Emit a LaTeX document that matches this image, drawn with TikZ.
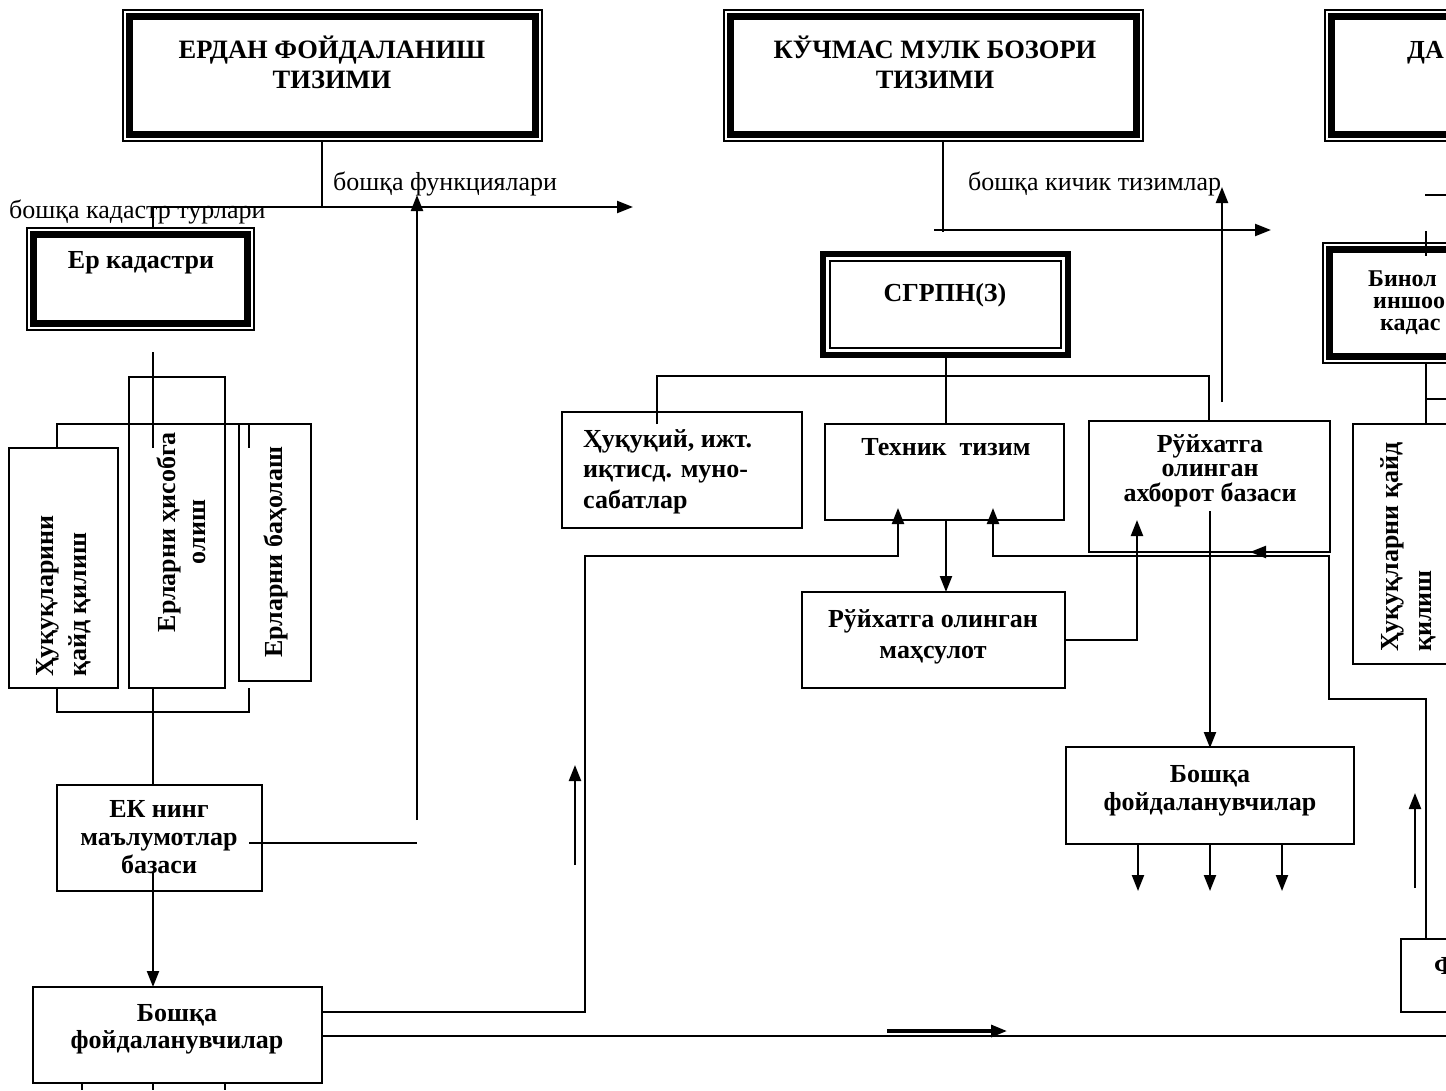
\documentclass[tikz,border=0pt]{standalone}
\usepackage{fontspec}
\setmainfont{Liberation Serif}
\usetikzlibrary{arrows.meta}
\newcommand\tlines[2]{\begin{tabular}[t]{@{}#1@{}}#2\end{tabular}}
\newcommand\boxat[6][bx]{\node[#1, minimum width={#5-#3}, minimum height={#6-#4}] (#2) at ({(#3+#5)/2},{(#4+#6)/2}) {};}
\newcommand\dblA[1]{\draw[line width=6.5pt] ([shift={(7.5,7.5)}]#1.north west) rectangle ([shift={(-7.5,-7.5)}]#1.south east);}
\newcommand\dblB[1]{\draw[line width=6.5pt] ([shift={(3.25,3.25)}]#1.north west) rectangle ([shift={(-3.25,-3.25)}]#1.south east);
  \draw[line width=1.5pt] ([shift={(10,10)}]#1.north west) rectangle ([shift={(-10,-10)}]#1.south east);}
\begin{document}
\begin{tikzpicture}[x=1pt,y=-1pt,
  bx/.style={draw, line width=1.7pt, inner sep=0pt, rectangle},
  bxn/.style={inner sep=0pt, rectangle},
  tb/.style={inner sep=0pt, font=\fontsize{26}{28}\selectfont\bfseries},
  tr/.style={inner sep=0pt, font=\fontsize{26}{28}\selectfont},
  ln/.style={line width=1.7pt},
  arr/.style={line width=2.2pt,-{Triangle[length=16pt,width=12pt]}}]
\useasboundingbox (0,0) rectangle (1446,1090);
\clip (0,0) rectangle (1446,1090);

% ---------- boxes ----------
\boxat{A}{123}{10}{542}{141}\dblA{A}
\boxat{B}{724}{10}{1143}{141}\dblA{B}
\boxat{C}{1325}{10}{1745}{141}\dblA{C}
\boxat{erk}{27}{228}{254}{330}\dblA{erk}
\boxat[bxn]{sgrpn}{820}{251}{1071}{358}\dblB{sgrpn}
\boxat{binol}{1323}{243}{1563}{363}\dblA{binol}
\boxat{huq1}{9}{448}{118}{688}
\boxat{his}{129}{377}{225}{688}
\boxat{bah}{239}{424}{311}{681}
\boxat{ek}{57}{785}{262}{891}
\boxat{bosh1}{33}{987}{322}{1083}
\boxat{huqiy}{562}{412}{802}{528}
\boxat{tech}{825}{424}{1064}{520}
\boxat{ruyx}{1089}{421}{1330}{552}
\boxat{mahs}{802}{592}{1065}{688}
\boxat{bosh2}{1066}{747}{1354}{844}
\boxat{huq2}{1353}{424}{1560}{664}
\boxat{fbox}{1401}{939}{1600}{1012}

% ---------- texts ----------
\node[tb, font=\fontsize{26.5}{30}\selectfont\bfseries, anchor=base] (tA) at (332,58) {\tlines{c}{ЕРДАН ФОЙДАЛАНИШ\\ТИЗИМИ}};
\node[tb, font=\fontsize{26.5}{30}\selectfont\bfseries, anchor=base] (tB) at (935,58) {\tlines{c}{КЎЧМАС МУЛК БОЗОРИ\\ТИЗИМИ}};
\node[tb, anchor=base west] (tC) at (1407,58) {ДА};
\node[tb, anchor=base] (terk) at (141,268) {Ер кадастри};
\node[tb, anchor=base] (tsg) at (945,301) {СГРПН(З)};
\node[tb, font=\fontsize{24}{22}\selectfont\bfseries, anchor=base west] (tbi1) at (1368,286) {Бинол};
\node[tb, font=\fontsize{24}{22}\selectfont\bfseries, anchor=base west] (tbi2) at (1373,308) {иншоо};
\node[tb, font=\fontsize{24}{22}\selectfont\bfseries, anchor=base west] (tbi3) at (1380,330) {кадас};
\node[tb, font=\fontsize{26}{33}\selectfont\bfseries, rotate=90, anchor=base west] (thuq1) at (53,677) {\tlines{l}{Ҳуқуқларини\\қайд қилиш}};
\node[tb, font=\fontsize{26}{30.5}\selectfont\bfseries, rotate=90, anchor=base] (this) at (175,532) {\tlines{c}{Ерларни ҳисобга\\олиш}};
\node[tb, rotate=90, anchor=base] (tbah) at (282,552) {Ерларни баҳолаш};
\node[tb, font=\fontsize{26}{33}\selectfont\bfseries, rotate=90, anchor=base west] (thuq2) at (1398,652) {\tlines{l}{Ҳуқуқларни қайд\\қилиш}};
\node[tb, font=\fontsize{26}{28}\selectfont\bfseries, anchor=base] (tek) at (159,817) {\tlines{c}{ЕК нинг\\маълумотлар\\базаси}};
\node[tb, font=\fontsize{26}{27}\selectfont\bfseries, anchor=base] (tbo1) at (177,1021) {\tlines{c}{Бошқа\\фойдаланувчилар}};
\node[tb, font=\fontsize{26}{30.5}\selectfont\bfseries, anchor=base west] (thy) at (583,447) {\tlines{l}{Ҳуқуқий, ижт.\\иқтисд. муно-\\сабатлар}};
\node[tb, anchor=base] (ttech) at (946,455) {Техник\ \ тизим};
\node[tb, font=\fontsize{26}{24}\selectfont\bfseries, anchor=base] (truyx) at (1210,452) {\tlines{c}{Рўйхатга\\олинган\\ахборот базаси}};
\node[tb, font=\fontsize{26}{31}\selectfont\bfseries, anchor=base] (tmahs) at (933,627) {\tlines{c}{Рўйхатга олинган\\маҳсулот}};
\node[tb, font=\fontsize{26}{28}\selectfont\bfseries, anchor=base] (tbo2) at (1210,782) {\tlines{c}{Бошқа\\фойдаланувчилар}};
\node[tb, anchor=base west] (tf) at (1434,974) {Ф};
\node[tr, anchor=base west] (lf) at (333,190) {бошқа функциялари};
\node[tr, anchor=base west] (lk) at (9,218) {бошқа кадастр турлари};
\node[tr, anchor=base west] (lt) at (968,190) {бошқа кичик тизимлар};

% ---------- left part ----------
\draw[ln] (A.south -| 322,0) -- (322,207);
\draw[arr] (153,207) -- (633,207);
\draw[ln] (153,207) -- (erk.north -| 153,0);
\draw[ln] (153,352) -- (153,448);
\draw[ln] (57,448) -- (57,424) -- (239,424);
\draw[ln] (249,424) -- (249,448);
\draw[ln] (57,688) -- (57,712) -- (249,712) -- (249,688);
\draw[ln] (153,688) -- (153,785);
\draw[ln] (249,843) -- (417,843);
\draw[arr] (417,820) -- (417,195);
\draw[arr] (153,872) -- (153,987);
\draw[ln] (82,1083) -- (82,1090);
\draw[ln] (153,1083) -- (153,1090);
\draw[ln] (225,1083) -- (225,1090);
\draw[arr] (322,1012) -- (585,1012) -- (585,556) -- (898,556) -- (898,508);
\draw[ln] (322,1036) -- (1446,1036);
\draw[arr, line width=3.2pt] (887,1031) -- (1007,1031);
\draw[arr] (575,865) -- (575,765);

% ---------- middle part ----------
\draw[ln] (943,141) -- (943,232);
\draw[arr] (934,230) -- (1271,230);
\draw[arr] (1222,402) -- (1222,187);
\draw[ln] (946,358) -- (946,424);
\draw[ln] (657,424) -- (657,376) -- (1209,376) -- (1209,421);
\draw[arr] (946,520) -- (946,592);
\draw[arr] (1065,640) -- (1137,640) -- (1137,520);
\draw[arr] (1210,511) -- (1210,748);
\draw[arr] (1320,552) -- (1250,552);
\draw[arr] (1426,939) -- (1426,699) -- (1329,699) -- (1329,556) -- (993,556) -- (993,508);
\draw[arr] (1138,844) -- (1138,891);
\draw[arr] (1210,844) -- (1210,891);
\draw[arr] (1282,844) -- (1282,891);

% ---------- right part ----------
\draw[ln] (1425,195) -- (1446,195);
\draw[ln] (1426,231) -- (1426,256);
\draw[ln] (1426,363) -- (1426,424);
\draw[ln] (1426,399) -- (1446,399);
\draw[arr] (1415,888) -- (1415,793);
\end{tikzpicture}
\end{document}
